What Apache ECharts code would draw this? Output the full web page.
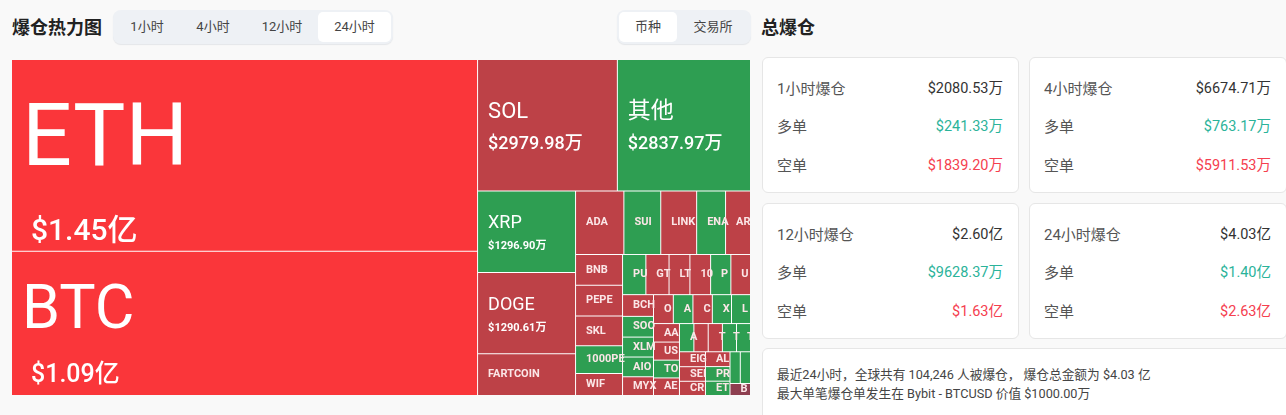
<!DOCTYPE html>
<html>
<head>
<meta charset="utf-8" />
<title>爆仓热力图</title>
<script src="https://cdn.jsdelivr.net/npm/echarts@6/dist/echarts.min.js"></script>
<style>
html, body { margin: 0; padding: 0; width: 1286px; height: 415px; overflow: hidden; background: #f9f9f9; font-family: Roboto, "Noto Sans CJK SC", sans-serif; color: #333; }
#main { position: absolute; left: 12px; top: 60px; width: 738px; height: 335px; }
.title { position: absolute; top: 15px; font-size: 18px; font-weight: 700; line-height: 26px; color: #222; }
.tabs { position: absolute; top: 10px; height: 34px; background: #eef1f5; border-radius: 8px; box-shadow: 0 1px 1px #e4e6e9; }
.tabs span { position: absolute; top: 2px; height: 30px; line-height: 30px; text-align: center; font-size: 13px; color: #444; border-radius: 5px; }
.tabs span.on { background: #fff; }
.card { position: absolute; box-sizing: border-box; background: #fff; border: 1px solid #e6e6e6; border-radius: 6px; height: 136px; }
.card div { position: absolute; left: 14px; right: 15px; height: 20px; line-height: 20px; font-size: 15px; color: #555; }
.card b { font-weight: 400; float: right; font-size: 14.5px; color: #333; }
.card b.long { color: #2bb39a; }
.card b.short { color: #f5404f; }
#note { position: absolute; left: 762px; top: 348px; width: 530px; height: 80px; box-sizing: border-box; background: #fff; border: 1px solid #e6e6e6; border-radius: 6px; padding: 16px 14px; font-size: 12.7px; line-height: 19px; color: #444; }
</style>
</head>
<body>
<div class="title" style="left:12px">爆仓热力图</div>
<div class="tabs" id="tabsTime" style="left:113px;width:280px"></div>
<div class="tabs" id="tabsKind" style="left:617px;width:134px"></div>
<div class="title" style="left:761px">总爆仓</div>
<div id="main"></div>
<div id="cards"></div>
<div id="note"></div>
<script type="text/javascript">
    // treemap values are in 万 USD, small coins estimated from the cell areas
    var coins = ['ETH', 'BTC', 'SOL', '其他', 'XRP', 'DOGE', 'FARTCOIN',
        'ADA', 'SUI', 'LINK', 'ENA', 'ARB',
        'BNB', 'PEPE', 'SKL', '1000PEPE', 'WIF',
        'PUMP', 'GTC', 'LTC', '1000BONK', 'PENGU', 'UNI',
        'BCH', 'SOON', 'XLM', 'AIO', 'MYX',
        'OP', 'APT', 'CYBER', 'XMR', 'LDO',
        'AAVE', 'USUAL', 'TON', 'AERO',
        'AVAX', 'HYPE', 'TAO', 'TIA', 'TRX',
        'EIGEN', 'SEI', 'CRV',
        'ALGO', 'PROM', 'ETC',
        'S', 'W', 'BOME'];
    var amounts = [14500, 10900, 2979.98, 2837.97, 1296.90, 1290.61, 664,
        498, 380, 370, 298, 257,
        235, 234, 227, 212, 167,
        152, 151, 136, 135, 132, 128,
        109, 104, 100, 99, 94,
        93, 92, 91, 90, 89,
        78, 76, 75, 74,
        66, 65.5, 65, 64.5, 64,
        63, 61.5, 60,
        59, 58, 57,
        53, 52.5, 40];
    var sides = ['hot', 'hot', 's', 'l', 'l', 's', 's',
        's', 'l', 's', 'l', 's',
        's', 's', 's', 'l', 's',
        'l', 's', 's', 's', 'l', 's',
        's', 'l', 'l', 'l', 's',
        's', 'l', 's', 'l', 'l',
        's', 's', 'l', 's',
        'l', 's', 's', 'l', 'l',
        's', 's', 's',
        's', 'l', 'l',
        'l', 'l', 'dim'];

    var periods = ['1小时爆仓', '4小时爆仓', '12小时爆仓', '24小时爆仓'];
    var totals = ['$2080.53万', '$6674.71万', '$2.60亿', '$4.03亿'];
    var longs = ['$241.33万', '$763.17万', '$9628.37万', '$1.40亿'];
    var shorts = ['$1839.20万', '$5911.53万', '$1.63亿', '$2.63亿'];
    var timeTabs = ['1小时', '4小时', '12小时', '24小时'];
    var kindTabs = ['币种', '交易所'];
    var noteLines = ['最近24小时，全球共有 104,246 人被爆仓， 爆仓总金额为 $4.03 亿', '最大单笔爆仓单发生在 Bybit - BTCUSD 价值 $1000.00万'];

    var sideColor = { hot: '#fa363a', s: '#bd4147', l: '#2e9e52', dim: '#8e3f50' };

    function money(v) {
        return v >= 10000 ? '$' + (v / 10000).toFixed(2) + '亿' : '$' + v.toFixed(2) + '万';
    }

    // rich labels sit at the top of the cell, so the top padding places them
    function labelFor(v, name) {
        if (v >= 14000) return tier(v, 88, 146, 30, 32, 10, 10, 9);
        if (v >= 10000) return tier(v, 61, 100, 25, 26, 11, 10, 9);
        if (v >= 2000) return tier(v, name === '其他' ? 23 : 22, 34, 18, 30, 35, 10, 0);
        if (v >= 1000) return tier(v, 18, 24, 11, 22, 20, 10, 0);
        return { position: 'insideLeft', distance: 5, padding: [0, 0, 0, 5], fontSize: 11, fontWeight: 700, color: '#fbe6e7', formatter: '{b}' };
    }

    function tier(v, nameSize, nameLine, valSize, valLine, top, left, valLeft) {
        return {
            position: 'insideLeft',
            distance: 0,
            padding: [top, 0, 0, left],
            formatter: '{n|{b}}\n{v|' + money(v) + '}',
            rich: {
                n: { fontSize: nameSize, lineHeight: nameLine, color: '#fff' },
                v: { fontSize: valSize, lineHeight: valLine, color: '#fff', fontWeight: v < 2000 ? 700 : 500, padding: [0, 0, 0, valLeft] }
            }
        };
    }

    var treeData = coins.map(function (name, i) {
        return {
            name: name,
            value: amounts[i],
            itemStyle: { color: sideColor[sides[i]], borderWidth: 0 },
            label: labelFor(amounts[i], name)
        };
    });

    var myChart = echarts.init(document.getElementById('main'));
    myChart.setOption({
        animation: false,
        backgroundColor: '#fff',
        textStyle: { fontFamily: 'Roboto, "Noto Sans CJK SC", sans-serif' },
        series: [{
            type: 'treemap',
            left: 0,
            top: 0,
            width: 738,
            height: 335,
            roam: false,
            nodeClick: false,
            breadcrumb: { show: false },
            visibleMin: 0,
            label: { show: true, ellipsis: '', overflow: 'truncate' },
            levels: [{ itemStyle: { borderWidth: 0, gapWidth: 1 } }],
            data: treeData
        }]
    });

    function tabsHtml(names, lefts, width, active) {
        return names.map(function (n, i) {
            return '<span class="' + (i === active ? 'on' : '') + '" style="left:' + lefts[i] + 'px;width:' + width[i] + 'px">' + n + '</span>';
        }).join('');
    }
    document.getElementById('tabsTime').innerHTML = tabsHtml(timeTabs, [2, 68, 135, 205], [64, 64, 68, 73], 3);
    document.getElementById('tabsKind').innerHTML = tabsHtml(kindTabs, [2, 60], [58, 72], 0);

    var cardLeft = [762, 1029, 762, 1029];
    var cardWidth = [257, 258, 257, 258];
    var cardTop = [57, 57, 203, 203];
    document.getElementById('cards').innerHTML = periods.map(function (p, i) {
        return '<div class="card" style="left:' + cardLeft[i] + 'px;top:' + cardTop[i] + 'px;width:' + cardWidth[i] + 'px">' +
            '<div style="top:21px">' + p + '<b>' + totals[i] + '</b></div>' +
            '<div style="top:59px">多单<b class="long">' + longs[i] + '</b></div>' +
            '<div style="top:98px">空单<b class="short">' + shorts[i] + '</b></div>' +
            '</div>';
    }).join('');
    document.getElementById('note').innerHTML = noteLines.join('<br>');
</script>
</body>
</html>
